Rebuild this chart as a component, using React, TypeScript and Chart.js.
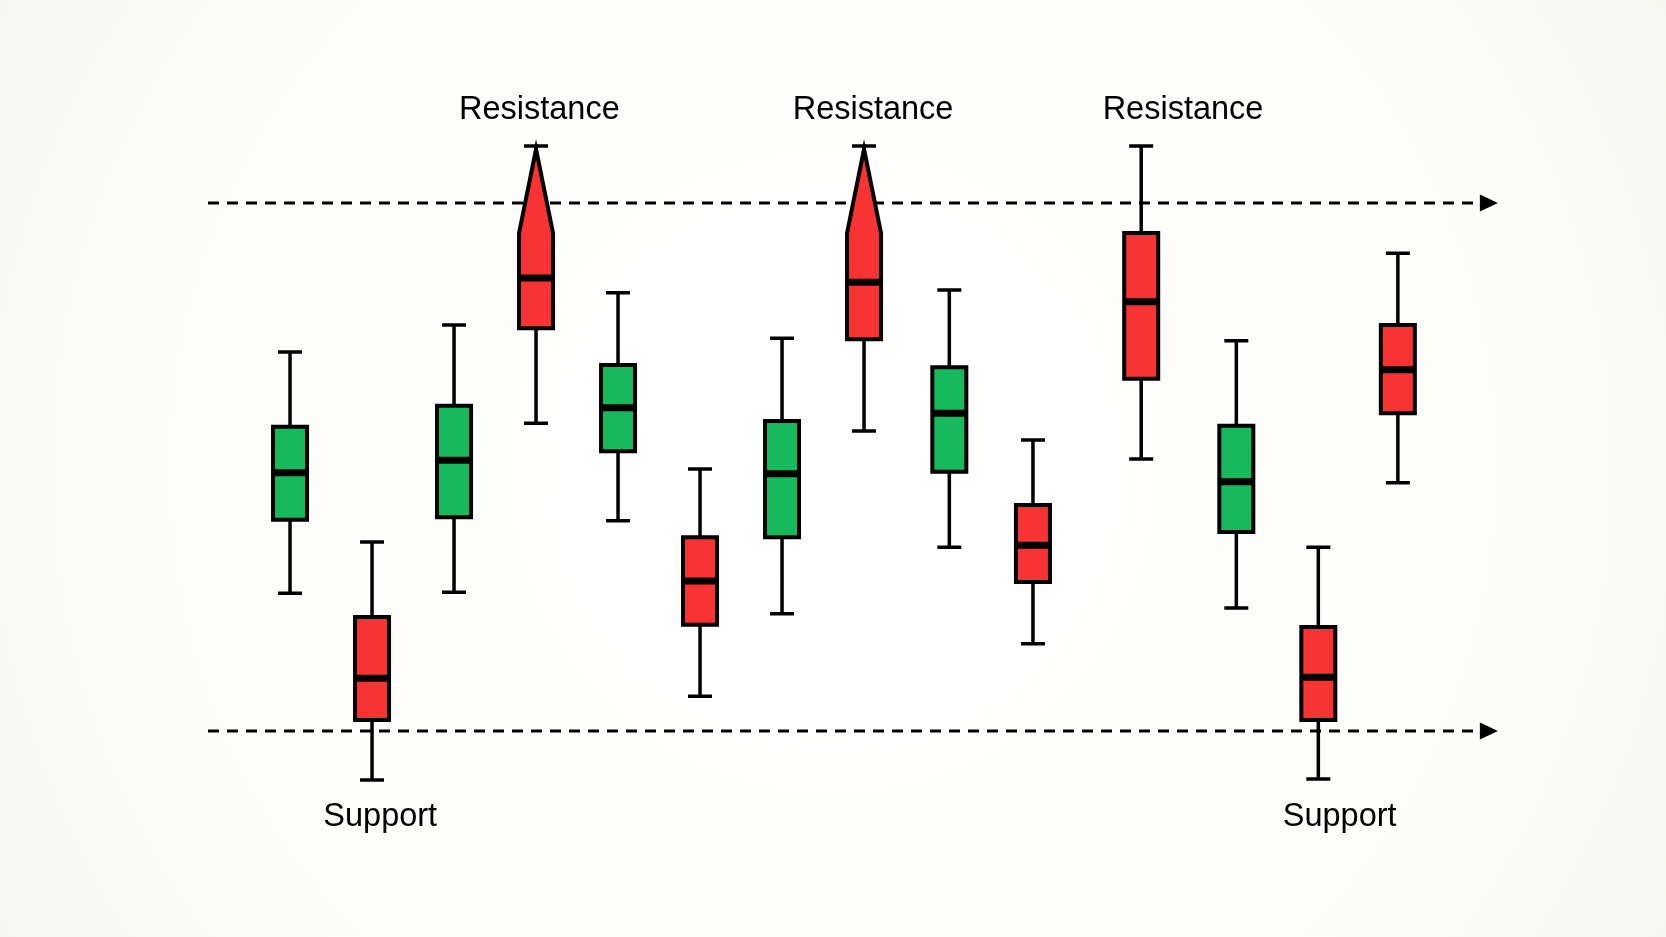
import React, { useEffect, useRef } from "react";
import { Chart, registerables } from "chart.js";

Chart.register(...registerables);

// ---- data (price units) ----
const positions = [1, 2, 3, 4, 5, 6, 7, 8, 9.04, 10.06, 11.38, 12.54, 13.54, 14.51];
const highs = [171.8, 135.8, 176.9, 210.8, 183.0, 149.6, 174.4, 210.8, 183.5, 155.1, 210.8, 173.9, 134.8, 190.5];
const boxTops = [157.6, 121.6, 161.6, 194.3, 169.3, 136.7, 158.7, 194.3, 168.9, 142.8, 194.3, 157.8, 119.7, 176.9];
const medians = [148.9, 110.0, 151.3, 185.8, 161.2, 128.4, 148.7, 185.0, 160.2, 135.2, 181.3, 147.2, 110.2, 168.4];
const boxBottoms = [140.0, 102.1, 140.5, 176.3, 153.0, 120.1, 136.7, 174.2, 149.1, 128.2, 166.7, 137.7, 102.1, 160.2];
const lows = [126.1, 90.7, 126.3, 158.3, 139.8, 106.6, 122.2, 156.8, 134.8, 116.5, 151.5, 123.3, 90.9, 147.0];
const bullish = [true, false, true, false, true, false, true, false, true, false, false, true, false, false];
const spiked = [false, false, false, true, false, false, false, true, false, false, false, false, false, false];

const resistanceLevel = 200;
const supportLevel = 100;
const levelStart = 0;
const levelEnd = 15.73;

const labelTexts = ["Resistance", "Resistance", "Resistance", "Support", "Support"];
const labelX = [4.04, 8.11, 11.89, 2.1, 13.8];
const labelY = [217.6, 217.6, 217.6, 83.7, 83.7];

const GREEN = "#16ba5c";
const RED = "#f73333";

const candlePlugin = {
  id: "candles",
  beforeDraw(chart: any) {
    const { ctx, width, height } = chart;
    ctx.save();
    const g = ctx.createRadialGradient(width / 2, height / 2, 100, width / 2, height / 2, width * 0.6);
    g.addColorStop(0, "#ffffff");
    g.addColorStop(0.7, "#fcfcf9");
    g.addColorStop(1, "#f5f5f0");
    ctx.fillStyle = g;
    ctx.fillRect(0, 0, width, height);
    ctx.restore();
  },
  afterDatasetsDraw(chart: any) {
    const { ctx } = chart;
    const xs = chart.scales.x;
    const ys = chart.scales.y;
    ctx.save();

    // arrow heads on level lines
    [resistanceLevel, supportLevel].forEach((lv) => {
      const tx = xs.getPixelForValue(levelEnd);
      const ty = ys.getPixelForValue(lv);
      ctx.fillStyle = "#000";
      ctx.beginPath();
      ctx.moveTo(tx, ty);
      ctx.lineTo(tx - 18, ty - 8.5);
      ctx.lineTo(tx - 18, ty + 8.5);
      ctx.closePath();
      ctx.fill();
    });

    const bw = 34;
    const cap = 24;
    positions.forEach((p, i) => {
      const cx = xs.getPixelForValue(p);
      const yH = ys.getPixelForValue(highs[i]);
      const yT = ys.getPixelForValue(boxTops[i]);
      const yM = ys.getPixelForValue(medians[i]);
      const yB = ys.getPixelForValue(boxBottoms[i]);
      const yL = ys.getPixelForValue(lows[i]);
      ctx.strokeStyle = "#000";
      ctx.lineWidth = 3.5;
      ctx.lineCap = "butt";
      // whiskers
      ctx.beginPath();
      ctx.moveTo(cx, yH);
      ctx.lineTo(cx, yT);
      ctx.moveTo(cx, yB);
      ctx.lineTo(cx, yL);
      ctx.moveTo(cx - cap / 2, yH);
      ctx.lineTo(cx + cap / 2, yH);
      ctx.moveTo(cx - cap / 2, yL);
      ctx.lineTo(cx + cap / 2, yL);
      ctx.stroke();
      // body
      ctx.fillStyle = bullish[i] ? GREEN : RED;
      ctx.lineWidth = 4;
      ctx.lineJoin = "miter";
      ctx.beginPath();
      if (spiked[i]) {
        ctx.moveTo(cx - bw / 2, yB);
        ctx.lineTo(cx - bw / 2, yT);
        ctx.lineTo(cx, yH + 3);
        ctx.lineTo(cx + bw / 2, yT);
        ctx.lineTo(cx + bw / 2, yB);
        ctx.closePath();
      } else {
        ctx.rect(cx - bw / 2, yT, bw, yB - yT);
      }
      ctx.fill();
      ctx.stroke();
      // median
      ctx.lineWidth = 7;
      ctx.beginPath();
      ctx.moveTo(cx - bw / 2, yM);
      ctx.lineTo(cx + bw / 2, yM);
      ctx.stroke();
    });

    // labels
    ctx.fillStyle = "#000";
    ctx.font = '32.5px "Liberation Sans", Arial, sans-serif';
    ctx.textAlign = "center";
    ctx.textBaseline = "middle";
    labelTexts.forEach((t, i) => {
      ctx.fillText(t, xs.getPixelForValue(labelX[i]), ys.getPixelForValue(labelY[i]));
    });
    ctx.restore();
  },
};

export default function App() {
  const ref = useRef<HTMLCanvasElement | null>(null);
  useEffect(() => {
    document.body.style.margin = "0";
    const canvas = ref.current!;
    const lineDs = (lv: number) => ({
      type: "line" as const,
      data: [
        { x: levelStart, y: lv },
        { x: levelEnd - 10 / 82, y: lv },
      ],
      borderColor: "#000",
      borderWidth: 3,
      borderDash: [11, 8],
      pointRadius: 0,
      fill: false,
    });
    const chart = new Chart(canvas, {
      type: "line",
      data: {
        datasets: [lineDs(resistanceLevel), lineDs(supportLevel)],
      },
      options: {
        animation: false,
        responsive: false,
        maintainAspectRatio: false,
        layout: { padding: 0 },
        plugins: { legend: { display: false }, tooltip: { enabled: false } },
        scales: {
          x: { type: "linear", display: false, min: -2.537, max: 17.78 },
          y: { type: "linear", display: false, min: 60.98, max: 238.45 },
        },
      },
      plugins: [candlePlugin],
    });
    return () => chart.destroy();
  }, []);
  return (
    <div style={{ width: 1666, height: 937 }}>
      <canvas ref={ref} width={1666} height={937} style={{ display: "block" }} />
    </div>
  );
}
